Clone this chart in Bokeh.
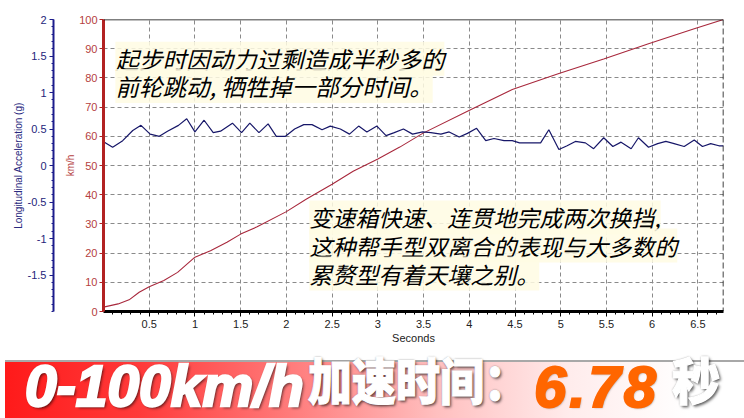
import numpy as np
from bokeh.plotting import figure
from bokeh.models import Range1d, LinearAxis, FixedTicker, Span, Label, Div
from bokeh.layouts import column
from bokeh.embed import file_html
from bokeh.resources import INLINE

# ---------------- data ----------------
accel_time = [0.01, 0.10, 0.21, 0.32, 0.41, 0.51, 0.61, 0.70, 0.82, 0.91, 1.00, 1.10, 1.20, 1.28,
              1.41, 1.51, 1.60, 1.70, 1.80, 1.89, 1.99, 2.09, 2.19, 2.28, 2.39, 2.48, 2.59, 2.69,
              2.79, 2.88, 2.99, 3.09, 3.18, 3.28, 3.38, 3.49, 3.58, 3.69, 3.78, 3.89, 3.98, 4.08,
              4.18, 4.27, 4.38, 4.47, 4.55, 4.67, 4.78, 4.87, 4.98, 5.07, 5.16, 5.27, 5.36, 5.47,
              5.57, 5.66, 5.77, 5.85, 5.96, 6.06, 6.15, 6.24, 6.35, 6.46, 6.55, 6.64, 6.73, 6.78]
accel_g = [0.32, 0.25, 0.34, 0.48, 0.55, 0.43, 0.40, 0.47, 0.55, 0.64, 0.46, 0.62, 0.45, 0.47,
           0.58, 0.45, 0.58, 0.45, 0.57, 0.40, 0.40, 0.50, 0.56, 0.56, 0.49, 0.54, 0.50, 0.43,
           0.54, 0.46, 0.54, 0.41, 0.45, 0.50, 0.43, 0.46, 0.45, 0.43, 0.46, 0.39, 0.44, 0.51,
           0.34, 0.37, 0.34, 0.34, 0.31, 0.31, 0.31, 0.49, 0.22, 0.27, 0.33, 0.31, 0.23, 0.38,
           0.26, 0.32, 0.23, 0.38, 0.25, 0.30, 0.33, 0.30, 0.26, 0.35, 0.26, 0.30, 0.27, 0.27]

speed_time = [0.0, 0.16, 0.28, 0.39, 0.50, 0.66, 0.81, 1.00, 1.17, 1.35, 1.50, 1.68, 2.00, 2.22,
              2.50, 2.73, 3.00, 3.24, 3.49, 3.98, 4.47, 4.98, 5.47, 5.96, 6.46, 6.78]
speed_kmh = [1.5, 2.6, 4.0, 6.6, 8.5, 10.6, 13.4, 18.6, 20.8, 23.7, 26.5, 29.0, 34.2, 38.5,
             43.6, 48.0, 52.2, 56.3, 61.0, 68.6, 76.0, 81.5, 86.5, 91.7, 96.8, 100.0]

time_end = 6.78
x_ticks = [0.5, 1.0, 1.5, 2.0, 2.5, 3.0, 3.5, 4.0, 4.5, 5.0, 5.5, 6.0, 6.5]
x_minor = [round(0.1 * i, 1) for i in range(1, 68)]
speed_ticks = [0, 10, 20, 30, 40, 50, 60, 70, 80, 90, 100]
accel_range = (-2.0, 2.0)
accel_ticks = [-1.5, -1.0, -0.5, 0.0, 0.5, 1.0, 1.5, 2.0]
accel_minor = [round(-2.0 + 0.1 * i, 1) for i in range(0, 41)]

note1 = ["起步时因动力过剩造成半秒多的", "前轮跳动, 牺牲掉一部分时间。"]
note1_pos = (0.13, [86.6, 77.2])
note2 = ["变速箱快速、连贯地完成两次换挡,", "这种帮手型双离合的表现与大多数的", "累赘型有着天壤之别。"]
note2_pos = (2.25, [32.2, 22.6, 13.0])

banner_parts = ["0-100km/h", "加速时间：", "6.78", "秒"]

# ---------------- figure ----------------
p = figure(width=744, height=355, x_range=Range1d(0, time_end),
           y_range=Range1d(speed_ticks[0], speed_ticks[-1]),
           output_backend="svg", toolbar_location=None,
           min_border_left=103, min_border_right=21, min_border_top=19, min_border_bottom=44)
p.extra_y_ranges = {"accel": Range1d(*accel_range)}
p.outline_line_color = None
p.background_fill_color = "white"
p.border_fill_color = "white"

# grids
p.xgrid.ticker = FixedTicker(ticks=x_ticks)
p.ygrid.ticker = FixedTicker(ticks=speed_ticks[1:-1])
for g in (p.xgrid, p.ygrid):
    g.grid_line_color = "#8a8a8a"
    g.grid_line_dash = "4 3"
    g.grid_line_width = 1

# x axis
xa = p.xaxis[0]
xa.ticker = FixedTicker(ticks=x_ticks, minor_ticks=x_minor)
xa.major_label_overrides = {t: f"{t:g}" for t in x_ticks}
xa.axis_line_color = "black"
xa.axis_line_width = 3
xa.major_tick_out = 5
xa.major_tick_in = 0
xa.minor_tick_out = 3
xa.minor_tick_in = 0
xa.major_tick_line_color = "black"
xa.minor_tick_line_color = "black"
xa.major_label_standoff = 3
xa.major_label_text_font = "Liberation Sans"
xa.major_label_text_font_size = "11px"
xa.major_label_text_color = "#222222"
xa.axis_label = "Seconds"
xa.axis_label_text_font = "Liberation Sans"
xa.axis_label_text_font_size = "11px"
xa.axis_label_text_font_style = "normal"
xa.axis_label_text_color = "#222222"
xa.axis_label_standoff = 1

# red speed axis (inner left)
ya = p.yaxis[0]
ya.ticker = FixedTicker(ticks=speed_ticks)
ya.axis_line_color = "#b22222"
ya.axis_line_width = 3
ya.major_tick_out = 4
ya.major_tick_in = 0
ya.minor_tick_out = 0
ya.minor_tick_in = 0
ya.major_tick_line_color = "#b22222"
ya.major_label_standoff = 2
ya.major_label_text_font = "Liberation Sans"
ya.major_label_text_font_size = "11px"
ya.major_label_text_color = "#b54040"
ya.axis_label = "km/h"
ya.axis_label_text_font = "Liberation Sans"
ya.axis_label_text_font_size = "10px"
ya.axis_label_text_font_style = "normal"
ya.axis_label_text_color = "#b54040"
ya.axis_label_standoff = 0

# invisible spacer axis between the two left axes
sp = LinearAxis(y_range_name="accel", ticker=FixedTicker(ticks=[accel_range[0]], minor_ticks=[]))
sp.axis_line_color = "white"
sp.axis_line_alpha = 0
sp.major_tick_line_color = "white"
sp.major_tick_line_alpha = 0
sp.minor_tick_line_color = None
sp.major_tick_out = 9
sp.major_tick_in = 0
sp.minor_tick_out = 0
sp.minor_tick_in = 0
sp.major_label_overrides = {accel_range[0]: ""}
sp.major_label_standoff = 0
p.add_layout(sp, "left")

# blue acceleration axis (outer left)
aa = LinearAxis(y_range_name="accel", ticker=FixedTicker(ticks=accel_ticks, minor_ticks=accel_minor))
aa.major_label_overrides = {t: f"{t:g}" for t in accel_ticks}
aa.axis_line_color = "#1c1c8c"
aa.axis_line_width = 2
aa.major_tick_out = 4
aa.major_tick_in = 0
aa.minor_tick_out = 2
aa.minor_tick_in = 0
aa.major_tick_line_color = "#1c1c8c"
aa.minor_tick_line_color = "#1c1c8c"
aa.major_label_standoff = 3
aa.major_label_text_font = "Liberation Sans"
aa.major_label_text_font_size = "11px"
aa.major_label_text_color = "#25257a"
aa.axis_label = "Longitudinal Acceleration (g)"
aa.axis_label_text_font = "Liberation Sans"
aa.axis_label_text_font_size = "10px"
aa.axis_label_text_font_style = "normal"
aa.axis_label_text_color = "#2a2a80"
aa.axis_label_standoff = 1
p.add_layout(aa, "left")

# borders
p.add_layout(Span(location=speed_ticks[-1], dimension="width", line_color="black", line_width=1.5))
p.add_layout(Span(location=time_end, dimension="height", line_color="black", line_width=1.5,
                  line_dash="6 3"))

# data lines
p.line(speed_time, speed_kmh, line_color="#a8283c", line_width=1.1)
p.line(accel_time, accel_g, line_color="#161668", line_width=1.2, y_range_name="accel")

# annotations
for txt, yv in zip(note1, note1_pos[1]):
    p.add_layout(Label(x=note1_pos[0], y=yv, text=txt, text_font="Noto Sans CJK SC",
                       text_font_size="23.5px", text_font_style="italic", text_color="black",
                       text_baseline="middle",
                       background_fill_color="#fffbe3", background_fill_alpha=0.85))
for txt, yv in zip(note2, note2_pos[1]):
    p.add_layout(Label(x=note2_pos[0], y=yv, text=txt, text_font="Noto Sans CJK SC",
                       text_font_size="23px", text_font_style="italic", text_color="black",
                       text_baseline="middle",
                       background_fill_color="#fffbe3", background_fill_alpha=0.85))

# banner
shadow = "text-shadow:0 0 2px rgba(60,60,60,0.9),2px 2px 3px rgba(0,0,0,0.6);"
banner_html = f"""
<div style="position:relative;width:744px;height:63px;box-sizing:border-box;
   border-top:2px solid #a8a8a8;
   background:linear-gradient(90deg,#ff1a1a 0%,#ff3a3a 18%,#ff7a7a 38%,#ffbfbf 58%,#ffecec 76%,#ffffff 92%);">
 <span style="position:absolute;left:20px;top:-4px;white-space:nowrap;font-family:'Liberation Sans';
   font-weight:bold;font-style:italic;font-size:57px;line-height:57px;color:white;
   -webkit-text-stroke:2.5px white;{shadow}">{banner_parts[0]}</span>
 <span style="position:absolute;left:303px;top:-9px;white-space:nowrap;font-family:'Noto Sans CJK SC';
   font-weight:900;font-size:50px;line-height:50px;color:white;transform:scaleX(0.88);
   transform-origin:0 0;-webkit-text-stroke:1.2px white;{shadow}">{banner_parts[1]}</span>
 <span style="position:absolute;left:529px;top:-4px;white-space:nowrap;font-family:'Liberation Sans';
   font-weight:bold;font-style:italic;font-size:58px;line-height:57px;letter-spacing:3px;color:#ff6600;
   -webkit-text-stroke:2px #ff6600;text-shadow:1px 1px 2px rgba(0,0,0,0.35);">{banner_parts[2]}</span>
 <span style="position:absolute;left:667px;top:-9px;white-space:nowrap;font-family:'Noto Sans CJK SC';
   font-weight:900;font-size:50px;line-height:50px;color:white;transform:scaleX(0.96);
   transform-origin:0 0;-webkit-text-stroke:1.2px white;{shadow}">{banner_parts[3]}</span>
</div>
"""
banner = Div(text=banner_html, width=744, height=63)

layout = column(p, banner, spacing=0)
open("out.html", "w").write(file_html(layout, INLINE))
